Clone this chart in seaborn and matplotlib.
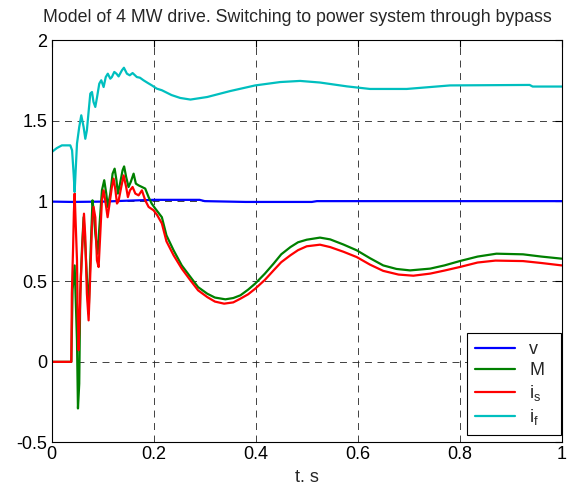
import matplotlib
matplotlib.use("Agg")
import matplotlib.pyplot as plt
import seaborn as sns
import pandas as pd
from matplotlib.lines import Line2D

# ---- data ----
t_v = [0, 0.04, 0.1, 0.15, 0.2, 0.29, 0.3, 0.38, 0.51, 0.52, 1.0]
v = [0.997, 0.995, 0.997, 1.003, 1.008, 1.008, 1.0, 0.995, 0.995, 1.0, 1.0]

t_M = [0, 0.0385, 0.041, 0.045, 0.048, 0.0496, 0.0515, 0.054, 0.056, 0.0595, 0.0626,
       0.066, 0.069, 0.0724, 0.0757, 0.080, 0.0822, 0.0855, 0.0899, 0.094, 0.0985,
       0.103, 0.107, 0.110, 0.1149, 0.1194, 0.1234, 0.127, 0.1298, 0.134, 0.139,
       0.142, 0.146, 0.1507, 0.155, 0.1606, 0.165, 0.1704, 0.177, 0.1834, 0.19,
       0.196, 0.203, 0.216, 0.225, 0.239, 0.255, 0.272, 0.287, 0.305, 0.32, 0.3405,
       0.356, 0.37, 0.385, 0.399, 0.418, 0.435, 0.45, 0.468, 0.483, 0.5, 0.526,
       0.546, 0.572, 0.598, 0.624, 0.65, 0.676, 0.7025, 0.742, 0.77, 0.8, 0.835,
       0.872, 0.924, 0.96, 1.0]
M = [0, 0, 0.45, 0.6, 0.3, 0.13, -0.29, -0.136, 0.424, 0.714, 0.9,
     0.714, 0.528, 0.30, 0.632, 1.005, 0.943, 0.798, 0.673, 0.861, 1.067,
     1.13, 1.047, 0.964, 1.047, 1.171, 1.202, 1.13, 1.047, 1.109, 1.192,
     1.216, 1.15, 1.088, 1.119, 1.171, 1.109, 1.098, 1.088, 1.078, 1.025,
     0.985, 0.954, 0.9, 0.787, 0.694, 0.6, 0.528, 0.465, 0.424, 0.4, 0.389,
     0.397, 0.414, 0.449, 0.487, 0.549, 0.611, 0.669, 0.714, 0.744, 0.76, 0.773,
     0.762, 0.73, 0.694, 0.645, 0.6, 0.578, 0.569, 0.58, 0.6, 0.627, 0.655,
     0.673, 0.669, 0.655, 0.642]

t_is = [0, 0.0001, 0.0385, 0.0395, 0.042, 0.0435, 0.045, 0.0496, 0.051, 0.0528,
        0.0575, 0.0607, 0.0633, 0.0659, 0.069, 0.0724, 0.0757, 0.0789, 0.082,
        0.0855, 0.0887, 0.092, 0.0953, 0.0985, 0.1018, 0.105, 0.1096, 0.1135,
        0.118, 0.1214, 0.125, 0.128, 0.131, 0.1364, 0.141, 0.146, 0.1494, 0.1535,
        0.1586, 0.164, 0.1704, 0.1769, 0.1834, 0.19, 0.1997, 0.207, 0.216, 0.225,
        0.239, 0.255, 0.272, 0.287, 0.305, 0.32, 0.338, 0.356, 0.37, 0.385, 0.399,
        0.418, 0.435, 0.45, 0.468, 0.483, 0.5, 0.526, 0.546, 0.572, 0.598, 0.624,
        0.65, 0.68, 0.709, 0.742, 0.77, 0.8, 0.835, 0.87, 0.924, 0.96, 1.0]
i_s = [0.683, 0, 0, 0.424, 0.714, 0.93, 1.047, 0.632, 0.3, 0.072,
       0.548, 0.756, 0.922, 0.777, 0.424, 0.258, 0.548, 0.839, 0.964,
       0.9, 0.632, 0.59, 0.798, 1.005, 1.067, 1.005, 0.9, 0.985,
       1.088, 1.14, 1.067, 0.985, 1.0, 1.088, 1.16, 1.088, 1.025, 1.067,
       1.088, 1.047, 1.036, 1.067, 1.005, 0.964, 0.943, 0.912, 0.861, 0.75,
       0.663, 0.58, 0.507, 0.445, 0.403, 0.375, 0.362, 0.37, 0.393, 0.42, 0.455,
       0.51, 0.569, 0.62, 0.663, 0.695, 0.719, 0.729, 0.714, 0.685, 0.652, 0.605,
       0.566, 0.543, 0.536, 0.549, 0.568, 0.59, 0.618, 0.63, 0.627, 0.615, 0.6]

t_if = [0, 0.01, 0.02, 0.0365, 0.040, 0.043, 0.045, 0.047, 0.0496, 0.054, 0.058,
        0.0626, 0.0659, 0.069, 0.072, 0.0757, 0.079, 0.082, 0.0855, 0.089, 0.0933,
        0.0972, 0.1018, 0.106, 0.110, 0.1149, 0.118, 0.1227, 0.127, 0.1312, 0.1377,
        0.1416, 0.1475, 0.153, 0.1586, 0.167, 0.173, 0.18, 0.1886, 0.1965, 0.206,
        0.216, 0.235, 0.252, 0.272, 0.305, 0.35, 0.399, 0.448, 0.487, 0.526, 0.579,
        0.624, 0.696, 0.781, 0.937, 0.943, 1.0]
i_f = [1.305, 1.33, 1.347, 1.347, 1.316, 1.17, 1.057, 1.19, 1.358, 1.461, 1.534,
       1.461, 1.388, 1.44, 1.544, 1.669, 1.679, 1.617, 1.586, 1.648, 1.731,
       1.752, 1.71, 1.772, 1.793, 1.762, 1.772, 1.804, 1.793, 1.776, 1.814,
       1.83, 1.793, 1.783, 1.797, 1.772, 1.768, 1.752, 1.735, 1.72, 1.70,
       1.69, 1.66, 1.642, 1.632, 1.648, 1.685, 1.72, 1.741, 1.748, 1.738, 1.714,
       1.698, 1.698, 1.72, 1.723, 1.713, 1.713]

labels = ["v", "M", "i$_{s}$", "i$_{f}$"]
colors = ["#0000ff", "#008000", "#ff0000", "#00bfbf"]

x_ticks = [0, 0.2, 0.4, 0.6, 0.8, 1]
x_tick_labels = ["0", "0.2", "0.4", "0.6", "0.8", "1"]
y_ticks = [-0.5, 0, 0.5, 1, 1.5, 2]
y_tick_labels = ["-0.5", "0", "0.5", "1", "1.5", "2"]

frames = []
for lab, tt, yy in zip(labels, [t_v, t_M, t_is, t_if], [v, M, i_s, i_f]):
    frames.append(pd.DataFrame({"t": tt, "value": yy, "series": lab}))
df = pd.concat(frames, ignore_index=True)

sns.set_theme(style="white")
plt.rcParams["font.family"] = ["Liberation Sans", "DejaVu Sans"]
plt.rcParams["mathtext.fontset"] = "custom"
plt.rcParams["mathtext.rm"] = "Liberation Sans"
plt.rcParams["mathtext.it"] = "Liberation Sans"
plt.rcParams["lines.scale_dashes"] = False

fig = plt.figure(figsize=(5.68, 4.87), dpi=100)
ax = fig.add_axes([0.091, 0.092, 0.898, 0.825])

sns.lineplot(data=df, x="t", y="value", hue="series", palette=dict(zip(labels, colors)),
             hue_order=labels, estimator=None, sort=False, linewidth=1.6, ax=ax,
             legend=False)

ax.set_xlim(0, 1)
ax.set_ylim(-0.5, 2)
ax.set_xticks(x_ticks)
ax.set_xticklabels(x_tick_labels)
ax.set_yticks(y_ticks)
ax.set_yticklabels(y_tick_labels)
ax.tick_params(direction="in", length=5, width=0.8, top=True, right=True,
               labelsize=13, colors="black", pad=3)
ax.grid(True, color="#222222", linewidth=0.6, linestyle=(0, (5, 4)))
for sp in ax.spines.values():
    sp.set_color("black")
    sp.set_linewidth(0.8)

ax.set_title("Model of 4 MW drive. Switching to power system through bypass",
             fontsize=12.8, pad=13, x=0.482)
ax.set_xlabel("t. s", fontsize=13, labelpad=4)
ax.set_ylabel("")

handles = [Line2D([0], [0], color=c, linewidth=1.6) for c in colors]
leg = ax.legend(handles, labels, loc="lower left",
                bbox_to_anchor=(0.814, 0.018, 0.184, 0.25), mode="expand",
                borderaxespad=0, fontsize=13, frameon=True, fancybox=False,
                handlelength=2.2, labelspacing=0.22, handletextpad=0.8,
                borderpad=0.45)
leg.get_frame().set_edgecolor("black")
leg.get_frame().set_linewidth(0.8)
leg.get_frame().set_alpha(1)

fig.savefig("out.png", dpi=100)
